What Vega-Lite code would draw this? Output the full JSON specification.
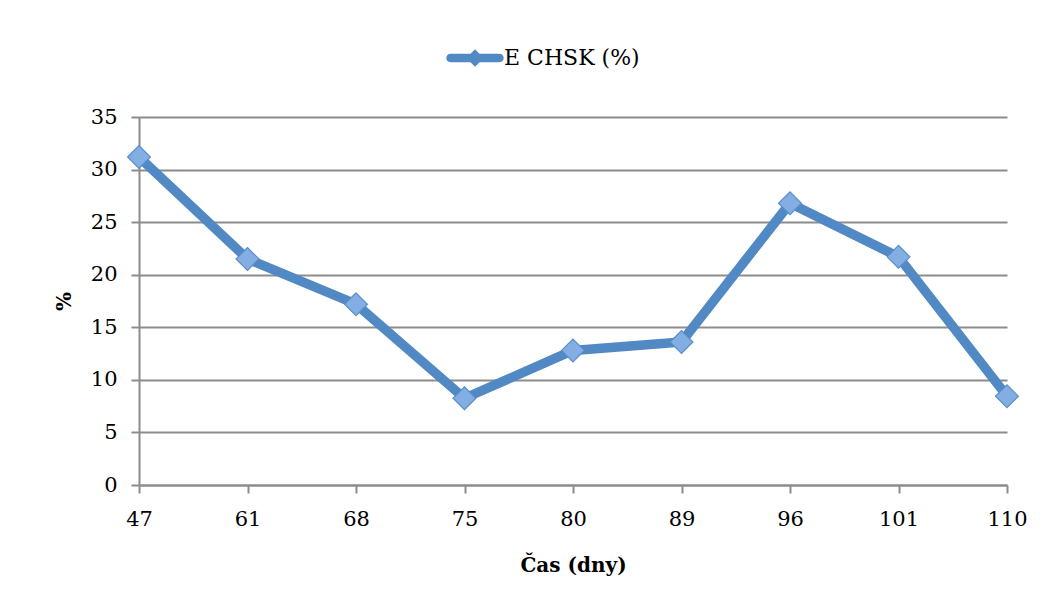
{
  "$schema": "https://vega.github.io/schema/vega-lite/v6.json",
  "width": 868,
  "height": 368,
  "autosize": {"type": "none"},
  "padding": {"left": 139, "top": 117, "right": 49, "bottom": 125},
  "background": "white",
  "config": {
    "font": "DejaVu Serif",
    "view": {"stroke": null},
    "axis": {
      "labelFont": "DejaVu Serif",
      "labelFontSize": 21,
      "labelColor": "#000000",
      "titleFont": "DejaVu Serif",
      "titleFontSize": 20,
      "titleFontWeight": "bold",
      "titleColor": "#000000",
      "domainColor": "#8c8c8c",
      "domainWidth": 2,
      "tickColor": "#8c8c8c",
      "tickWidth": 2,
      "tickSize": 8,
      "gridColor": "#8c8c8c",
      "gridWidth": 2,
      "gridOpacity": 1
    }
  },
  "data": {
    "values": [
      {"cas": 47, "pct": 31.2},
      {"cas": 61, "pct": 21.5},
      {"cas": 68, "pct": 17.2},
      {"cas": 75, "pct": 8.25},
      {"cas": 80, "pct": 12.8},
      {"cas": 89, "pct": 13.6},
      {"cas": 96, "pct": 26.8},
      {"cas": 101, "pct": 21.7},
      {"cas": 110, "pct": 8.45}
    ]
  },
  "encoding": {
    "x": {
      "field": "cas",
      "type": "ordinal",
      "sort": null,
      "scale": {"type": "point", "padding": 0},
      "axis": {
        "title": "Čas (dny)",
        "labelAngle": 0,
        "labelPadding": 15,
        "titlePadding": 26,
        "grid": false
      }
    },
    "y": {
      "field": "pct",
      "type": "quantitative",
      "scale": {"domain": [0, 35], "nice": false},
      "axis": {
        "title": "%",
        "values": [0, 5, 10, 15, 20, 25, 30, 35],
        "labelPadding": 14,
        "titlePadding": 16,
        "grid": true
      }
    }
  },
  "layer": [
    {
      "mark": {
        "type": "line",
        "strokeWidth": 9.5,
        "strokeCap": "round",
        "strokeJoin": "round"
      },
      "encoding": {
        "color": {
          "datum": "E CHSK (%)",
          "scale": {"range": ["#5189c4"]},
          "legend": {
            "title": null,
            "orient": "none",
            "legendX": 325,
            "legendY": -70,
            "padding": 0,
            "labelFont": "DejaVu Serif",
            "labelFontSize": 22,
            "labelColor": "#000000",
            "labelOffset": 18,
            "symbolSize": 196,
            "symbolType": "M-3.5,-0.6L3.5,-0.6A0.6,0.6,0,0,1,3.5,0.6L-3.5,0.6A0.6,0.6,0,0,1,-3.5,-0.6Z M-1.25,0L0,-1.25L1.25,0L0,1.25Z",
            "encode": {
              "symbols": {
                "update": {
                  "fill": {"value": "#5189c4"},
                  "stroke": {"value": "#5189c4"},
                  "strokeWidth": {"value": 0},
                  "opacity": {"value": 1}
                }
              }
            }
          }
        }
      }
    },
    {
      "mark": {
        "type": "point",
        "shape": "diamond",
        "filled": true,
        "size": 520,
        "fill": "#82aee4",
        "stroke": "#5a8dc8",
        "strokeWidth": 1.2,
        "opacity": 1
      }
    }
  ]
}
